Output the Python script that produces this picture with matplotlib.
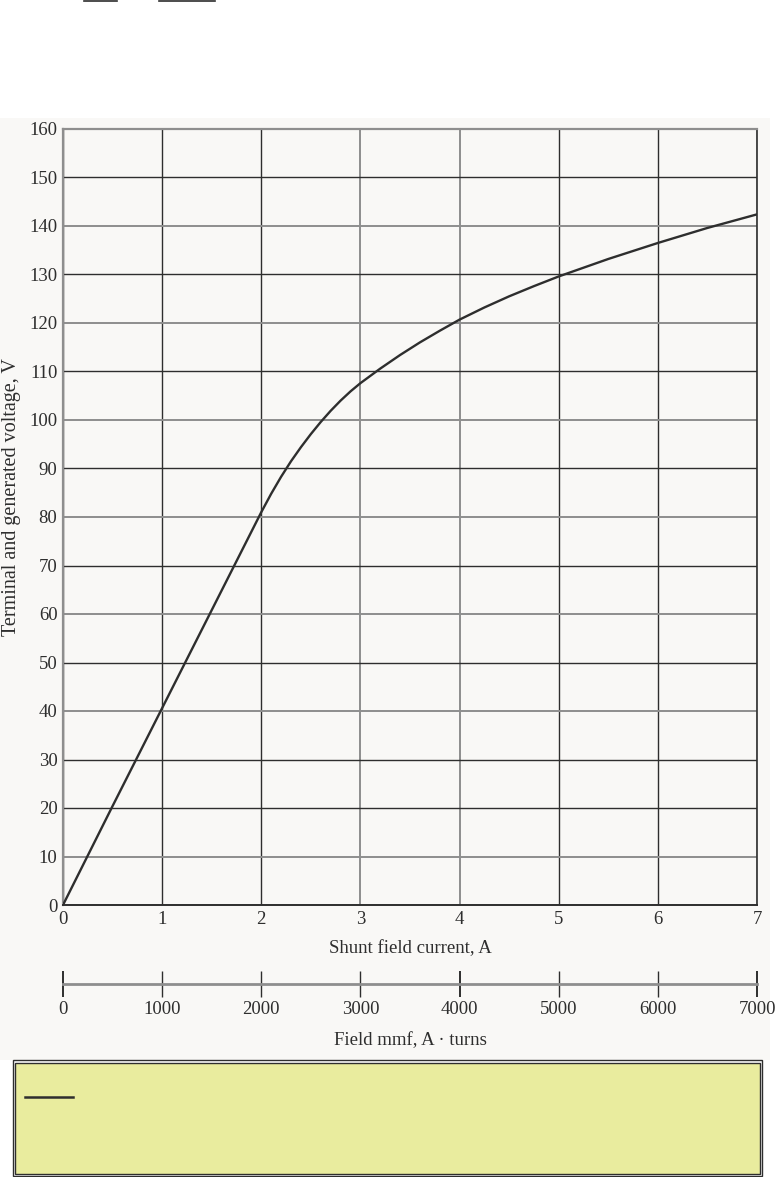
import numpy as np
import matplotlib
matplotlib.use("Agg")
import matplotlib.pyplot as plt
from matplotlib.patches import Rectangle
from matplotlib.lines import Line2D


# ==========================
# Dati
# ==========================

field_current_A = [0.0, 0.25, 0.5, 0.75, 1.0, 1.25, 1.5, 1.75, 2.0, 2.1,
                   2.2, 2.3, 2.4, 2.5, 2.6, 2.7, 2.8, 2.9, 3.0, 3.2, 3.4,
                   3.6, 3.8, 4.0, 4.25, 4.5, 4.75, 5.0, 5.5, 6.0, 6.5, 7.0]
voltage_V = [0.0, 10.2, 20.4, 30.5, 40.6, 50.7, 60.8, 70.9, 81.0, 84.8,
             88.3, 91.5, 94.4, 97.1, 99.6, 101.9, 104.0, 105.9, 107.6, 110.6,
             113.4, 116.0, 118.4, 120.7, 123.2, 125.5, 127.6, 129.6, 133.2,
             136.5, 139.6, 142.4]

current_ticks = [0, 1, 2, 3, 4, 5, 6, 7]
voltage_ticks = list(range(0, 161, 10))
mmf_ticks = [0, 1000, 2000, 3000, 4000, 5000, 6000, 7000]

x_label = "Shunt field current, A"
y_label = "Terminal and generated voltage, V"
mmf_label = "Field mmf, A \u00b7 turns"


# ==========================
# Stile
# ==========================

W, H = 776, 1177
dark = "#2e2e2e"
gray = "#8e8e8e"
bg = "#f9f8f6"
font = "Liberation Serif"
fs = 13.5

plt.rcParams["font.family"] = font


def fx(px):
    return px / W


def fy(py):
    return 1 - py / H


fig = plt.figure(figsize=(W / 100, H / 100), dpi=100)
fig.patch.set_facecolor("white")

# sfondo grigio chiaro della figura
fig.patches.append(Rectangle((fx(0), fy(1060)), fx(770), fy(118) - fy(1060),
                             transform=fig.transFigure, facecolor=bg,
                             edgecolor="none", zorder=-10))

# trattini in alto (resti del testo tagliato)
for x0, x1 in [(84, 117), (159, 215)]:
    fig.lines.append(Line2D([fx(x0), fx(x1)], [fy(0.8), fy(0.8)],
                            transform=fig.transFigure, color=dark, lw=1.2))


# ==========================
# Grafico principale
# ==========================

left, right, top, bottom = 63, 757, 129, 905
ax = fig.add_axes([fx(left), fy(bottom), fx(right - left), fy(top) - fy(bottom)])
ax.set_facecolor(bg)

ax.plot(field_current_A, voltage_V, color=dark, lw=1.7, zorder=5,
        solid_capstyle="round", solid_joinstyle="round")

ax.set_xlim(0, 7)
ax.set_ylim(0, 160)
ax.set_xticks(current_ticks)
ax.set_yticks(voltage_ticks)
ax.tick_params(length=0, labelsize=fs, colors=dark, pad=4)
ax.grid(True, zorder=1)

y_gray = {10, 40, 60, 80, 100, 120, 140, 160}
for v, gl in zip(voltage_ticks, ax.get_ygridlines()):
    if v in y_gray:
        gl.set_color(gray)
        gl.set_linewidth(1.4)
    else:
        gl.set_color(dark)
        gl.set_linewidth(1.0)

x_gray = {3, 4}
for v, gl in zip(current_ticks, ax.get_xgridlines()):
    if v in x_gray:
        gl.set_color(gray)
        gl.set_linewidth(1.4)
    else:
        gl.set_color(dark)
        gl.set_linewidth(1.0)

ax.spines["left"].set_color(gray)
ax.spines["left"].set_linewidth(1.6)
ax.spines["top"].set_color(gray)
ax.spines["top"].set_linewidth(1.6)
ax.spines["right"].set_color(dark)
ax.spines["right"].set_linewidth(1.2)
ax.spines["bottom"].set_color(dark)
ax.spines["bottom"].set_linewidth(1.4)

ax.set_xlabel(x_label, fontsize=fs, color=dark, labelpad=9)
fig.text(fx(11.5), fy(497), y_label, rotation=90, ha="center", va="center",
         fontsize=fs + 1, color=dark)


# ==========================
# Asse secondario (mmf)
# ==========================

ax2 = fig.add_axes([fx(left), fy(984), fx(right - left), 0.0001])
ax2.set_facecolor("none")
ax2.set_xlim(0, 7000)
ax2.set_yticks([])
for s in ["left", "right", "top"]:
    ax2.spines[s].set_visible(False)
ax2.spines["bottom"].set_color(gray)
ax2.spines["bottom"].set_linewidth(2.0)
ax2.set_xticks(mmf_ticks)
ax2.tick_params(axis="x", direction="inout", length=19, width=1.0,
                colors=dark, labelsize=fs, pad=3)
for v, t in zip(mmf_ticks, ax2.xaxis.get_major_ticks()):
    if v in (0, 4000, 7000):
        t.tick1line.set_color(gray)
        t.tick1line.set_markeredgewidth(1.4)
ax2.set_xlabel(mmf_label, fontsize=fs, color=dark, labelpad=10)


# ==========================
# Riquadro giallo in basso
# ==========================

fig.patches.append(Rectangle((fx(13), fy(1176)), fx(762 - 13), fy(1060) - fy(1176),
                             transform=fig.transFigure, facecolor="white",
                             edgecolor=dark, lw=1.0, zorder=1))
fig.patches.append(Rectangle((fx(15.5), fy(1173.5)), fx(759.5 - 15.5),
                             fy(1062.5) - fy(1173.5),
                             transform=fig.transFigure, facecolor="#e9ec9e",
                             edgecolor=dark, lw=1.0, zorder=2))
fig.lines.append(Line2D([fx(25), fx(73)], [fy(1097), fy(1097)],
                        transform=fig.transFigure, color=dark, lw=1.8, zorder=3))

fig.savefig("out.png", dpi=100, facecolor=fig.get_facecolor())
